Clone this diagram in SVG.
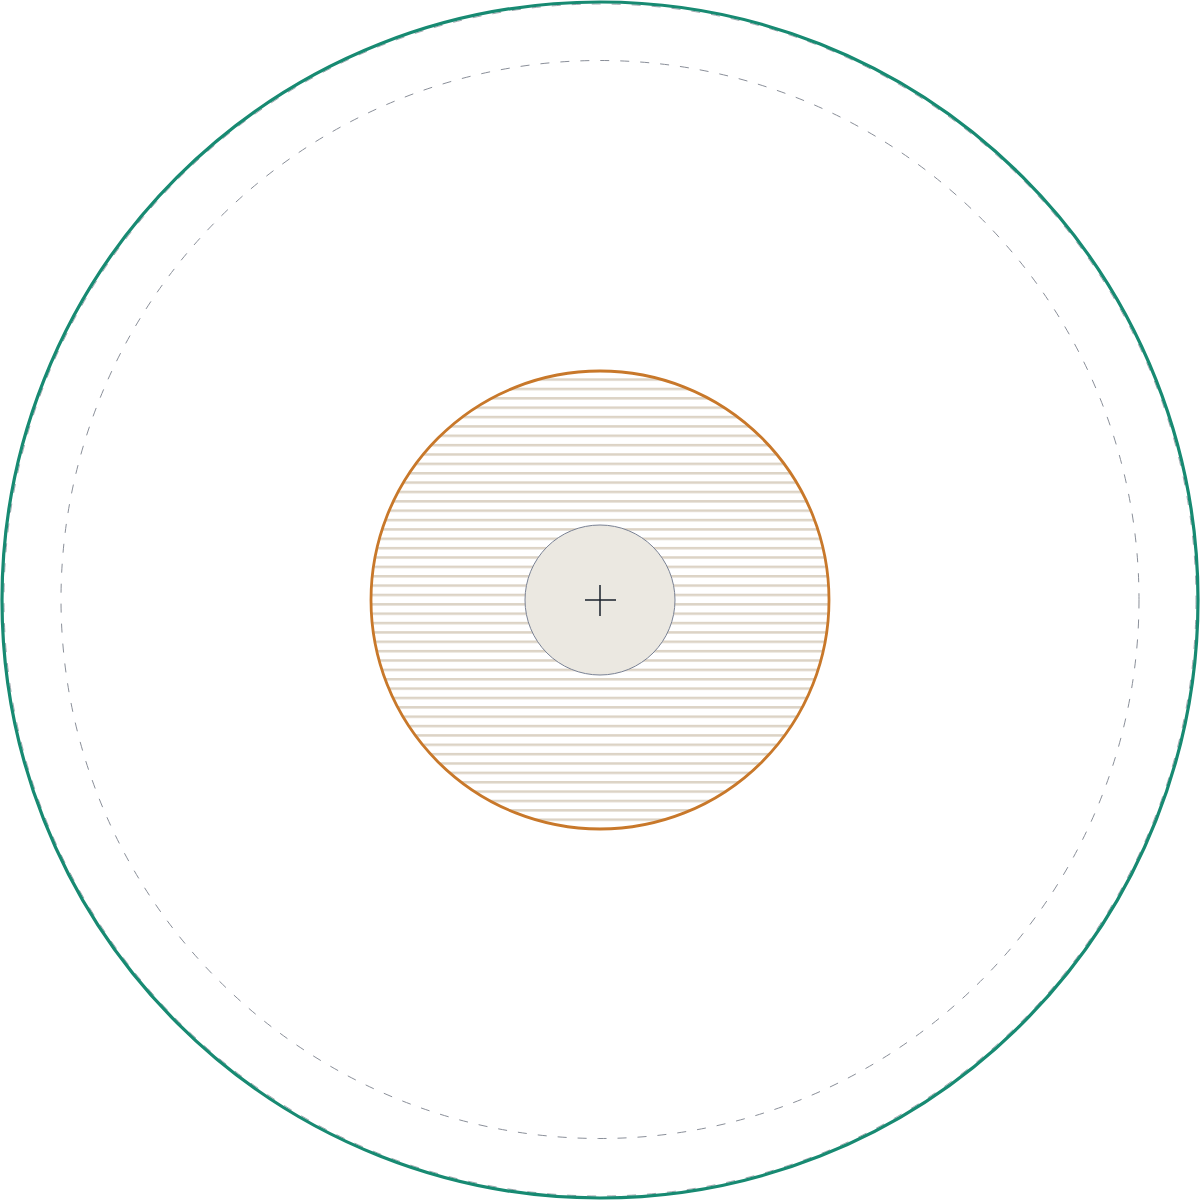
<svg xmlns="http://www.w3.org/2000/svg" width="1200" height="1200" viewBox="0 0 1200 1200">
  <defs>
    <pattern id="hatch" patternUnits="userSpaceOnUse" x="0" y="378.33" width="20" height="9.364">
      <rect x="0" y="0" width="20" height="2.5" fill="#dcd3c5"/>
    </pattern>
  </defs>
  <style>
    .dash { fill: none; stroke: #8a8f99; stroke-width: 1; stroke-dasharray: 9 11; }
    .halo { fill: none; stroke: #8a8f99; stroke-width: 0.8; stroke-dasharray: 9 11; }
    .outer { fill: none; stroke: #178a72; stroke-width: 3.2; }
    .zone { fill: url(#hatch); stroke: #c8782a; stroke-width: 2.8; }
    .core { fill: #ebe8e1; stroke: #7a8294; stroke-width: 1; }
    .mark { stroke: #1a202b; stroke-width: 1.5; fill: none; }
  </style>
  <rect width="1200" height="1200" fill="#ffffff"/>
  <g id="outer-boundary">
    <circle class="halo" cx="600" cy="600" r="596"/>
    <circle class="outer" cx="600" cy="600" r="598"/>
  </g>
  <g id="dashed-ring">
    <circle class="dash" cx="600" cy="599.5" r="539"/>
  </g>
  <g id="hatched-zone">
    <circle class="zone" cx="600" cy="600" r="229"/>
  </g>
  <g id="core">
    <circle class="core" cx="600" cy="600" r="75"/>
    <path class="mark" d="M585 600 H616 M600 585 V616"/>
  </g>
</svg>
